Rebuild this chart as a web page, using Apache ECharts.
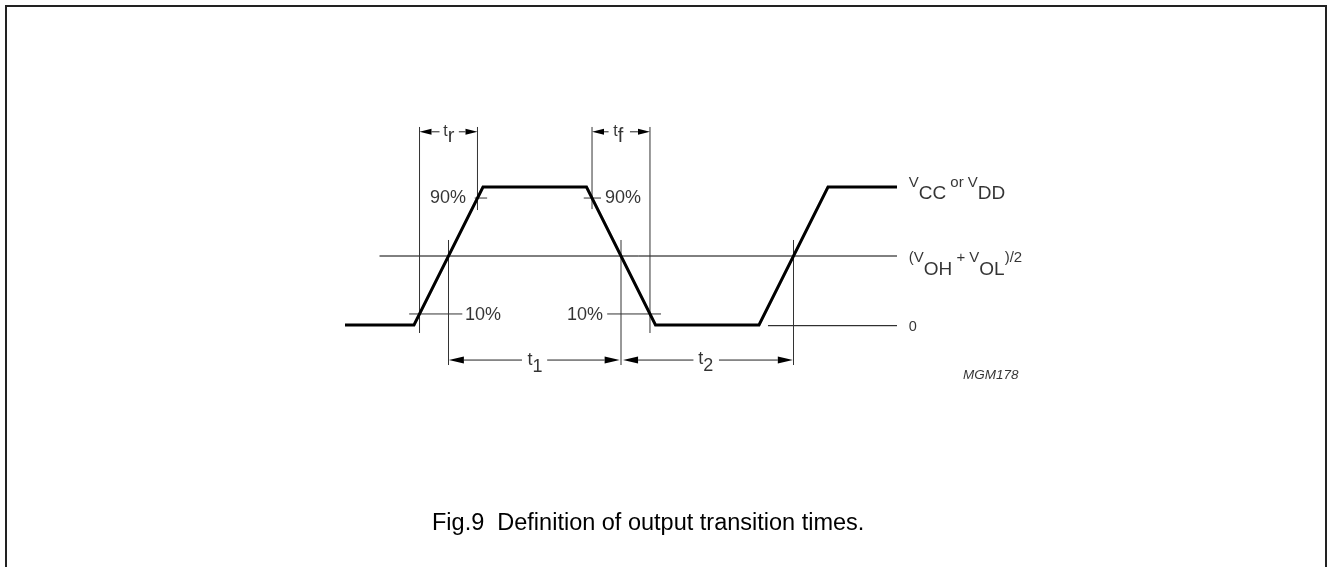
<!DOCTYPE html>
<html><head><meta charset="utf-8">
<script src="https://cdn.jsdelivr.net/npm/echarts@6/dist/echarts.min.js"></script>
<style>html,body{margin:0;padding:0;background:#fff}#c{width:1327px;height:567px}</style>
</head><body><div id="c"></div>
<script>
// ---- data (time in arbitrary units, level in % of VCC) ----
const waveTime  = [0, 10, 20, 35, 45, 60, 70, 80];
const waveLevel = [0, 0, 100, 100, 0, 0, 100, 100];
const midLevel = 50, lowPct = 8, highPct = 92;
// crossing times
const tRise10 = 10.8, tRiseMid = 15, tRise90 = 19.2;
const tFall90 = 35.8, tFallMid = 40, tFall10 = 44.2;
const tRise2Mid = 65;
// reference lines [t1, v1, t2, v2]
const refLines = [
  [5, midLevel, 80, midLevel],
  [61.3, -0.5, 80, -0.5]
];
// marker lines [t1, v1, t2, v2]
const markerLines = [
  [tRise10, 143.5, tRise10, -5.8],
  [tRise90, 143.5, tRise90, 83.3],
  [tFall90, 143.5, tFall90, 84],
  [tFall10, 143.5, tFall10, -5.8],
  [tRiseMid, 61.6, tRiseMid, -29],
  [tFallMid, 61.6, tFallMid, -29],
  [tRise2Mid, 61.6, tRise2Mid, -29],
  [9.3, lowPct, 17, lowPct],
  [18.8, highPct, 20.6, highPct],
  [34.6, highPct, 37.1, highPct],
  [38, lowPct, 45.8, lowPct]
];
// dimension arrows [tail, tip, level]
const topArrows = [
  [13.7, tRise10, 140], [16.5, tRise90, 140],
  [38.2, tFall90, 140], [41.3, tFall10, 140]
];
const bottomArrows = [
  [25.65, 15.05, -25.4], [29.3, 39.8, -25.4],
  [50.5, 40.3, -25.4], [54.2, 64.9, -25.4]
];
// percentage labels [t, level, text, align]
const pctLabels = [
  [17.54, highPct, '90%', 'right'],
  [17.4, 7.5, '10%', 'left'],
  [37.68, highPct, '90%', 'left'],
  [37.39, 7.5, '10%', 'right']
];
// level labels (rich) [t, level, text]
const levelLabels = [
  [81.7, 108.5, '{a|V}{b|CC}{a| or V}{b|DD}'],
  [81.7, 53.9, '{a|(V}{b|OH}{a| + V}{b|OL}{a|)/2}']
];
// time labels (rich) [t, level, text]
const timeLabels = [
  [15.05, 146.2, '{a|t}{b|r}'],
  [39.6, 146.2, '{a|t}{b|f}']
];
const periodLabels = [
  [27.54, -19.0, '{a|t}{b|1}'],
  [52.3, -18.3, '{a|t}{b|2}']
];
const zeroLabel = [[81.7, -1.1, '0']];
const figId = [[89.57, -36.2, 'MGM178']];
const caption = 'Fig.9  Definition of output transition times.';

// ---- rendering ----
const FONT = 'Liberation Sans, Arial, Helvetica, sans-serif';
function segRender(color, width) {
  return function (params, api) {
    const a = api.coord([api.value(0), api.value(1)]);
    const b = api.coord([api.value(2), api.value(3)]);
    return {type: 'line', shape: {x1: a[0], y1: a[1], x2: b[0], y2: b[1]},
      style: {stroke: color, lineWidth: width}};
  };
}
function arrowRender(L, W) {
  return function (params, api) {
    const v = api.value(2);
    const a = api.coord([api.value(0), v]);
    const b = api.coord([api.value(1), v]);
    const d = b[0] > a[0] ? 1 : -1;
    const bx = b[0] - d * L;
    return {type: 'group', children: [
      {type: 'line', shape: {x1: a[0], y1: a[1], x2: bx, y2: b[1]}, style: {stroke: '#222', lineWidth: 1}},
      {type: 'polygon', shape: {points: [[b[0], b[1]], [bx, b[1] - W / 2], [bx, b[1] + W / 2]]}, style: {fill: '#000'}}
    ]};
  };
}
function labelSeries(items, labelOpt) {
  return {
    type: 'scatter', symbol: 'circle', symbolSize: 1, silent: true,
    itemStyle: {color: 'rgba(0,0,0,0)'},
    data: items.map(it => ({
      value: [it[0], it[1]],
      label: Object.assign({show: true, formatter: it[2], position: 'inside',
        fontFamily: FONT, color: '#000'}, labelOpt, it[3] ? {align: it[3]} : {})
    }))
  };
}
function richPair(sa, sb, pad) {
  return {
    a: {fontFamily: FONT, fontSize: sa, lineHeight: sa, verticalAlign: 'top', color: '#000'},
    b: {fontFamily: FONT, fontSize: sb, lineHeight: sb, verticalAlign: 'top', padding: [pad, 0, 0, 0], color: '#000'}
  };
}
const chart = echarts.init(document.getElementById('c'), null, {renderer: 'canvas'});
chart.setOption({
  animation: false,
  backgroundColor: '#fff',
  title: {text: caption, left: 432, top: 512, padding: 0,
    textStyle: {fontFamily: FONT, fontSize: 23.5, fontWeight: 'normal', color: '#000', lineHeight: 23}},
  graphic: [{type: 'rect', shape: {x: 6, y: 6, width: 1320, height: 620},
    style: {fill: 'none', stroke: '#222', lineWidth: 2}, silent: true}],
  grid: {left: 345, top: 118, width: 690, height: 262.2},
  xAxis: {type: 'value', min: 0, max: 100, show: false},
  yAxis: {type: 'value', min: -40, max: 150, show: false},
  series: [
    {type: 'line', data: waveTime.map((t, i) => [t, waveLevel[i]]), symbol: 'none',
      lineStyle: {color: '#000', width: 3, join: 'miter'}, silent: true, z: 5},
    {type: 'custom', renderItem: segRender('#000', 1), data: refLines, silent: true, clip: false},
    {type: 'custom', renderItem: segRender('#333', 1), data: markerLines, silent: true, clip: false},
    {type: 'custom', renderItem: arrowRender(12, 6), data: topArrows, silent: true, clip: false},
    {type: 'custom', renderItem: arrowRender(15, 7), data: bottomArrows, silent: true, clip: false},
    labelSeries(pctLabels, {fontSize: 18, verticalAlign: 'middle'}),
    labelSeries(levelLabels, {align: 'left', verticalAlign: 'top', rich: richPair(15, 19, 9.3)}),
    labelSeries(timeLabels, {align: 'center', verticalAlign: 'top', rich: richPair(16, 20, 3.5)}),
    labelSeries(periodLabels, {align: 'center', verticalAlign: 'top', rich: richPair(18, 18, 6.5)}),
    labelSeries(zeroLabel, {fontSize: 14.5, align: 'left', verticalAlign: 'middle'}),
    labelSeries(figId, {fontSize: 13.5, fontStyle: 'italic', align: 'left', verticalAlign: 'middle'})
  ]
});
</script></body></html>
